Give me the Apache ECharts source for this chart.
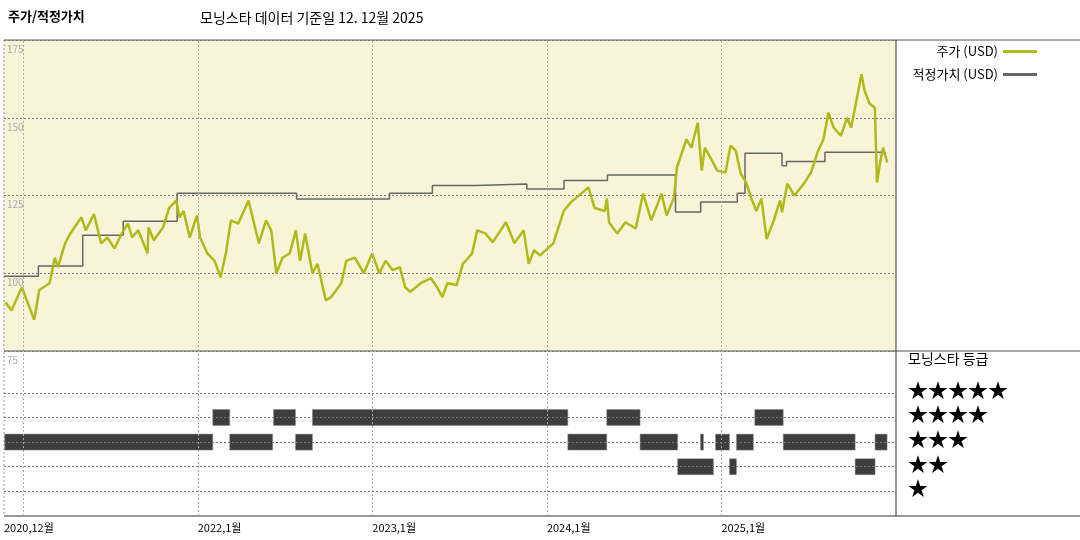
<!DOCTYPE html>
<html>
<head>
<meta charset="utf-8">
<script src="https://cdn.jsdelivr.net/npm/echarts@6/dist/echarts.min.js"></script>
<style>body{margin:0;background:#fff}#main{width:1080px;height:540px}</style>
</head>
<body>
<div id="main"></div>
<script>
// 시점은 연도 소수값 (2025.0 = 2025년 1월 1일)
var priceData = [
  [2020.898,90.7],[2020.933,88],[2020.992,95.5],[2021.063,85],[2021.092,94.6],[2021.151,96.8],
  [2021.181,105],[2021.199,102],[2021.240,109.6],[2021.270,112.8],[2021.334,118],[2021.358,113.8],
  [2021.405,119],[2021.447,109.6],[2021.482,111.5],[2021.523,108],[2021.565,112.8],[2021.600,116],
  [2021.624,111.5],[2021.659,113.8],[2021.712,106.4],[2021.718,114.7],[2021.748,110.6],[2021.801,114.7],
  [2021.836,121],[2021.877,123.4],[2021.895,118],[2021.919,120],[2021.954,111.5],[2021.996,118.6],
  [2022.013,111.5],[2022.055,106.4],[2022.096,104],[2022.131,98.7],[2022.161,106.4],[2022.190,117],
  [2022.232,116],[2022.291,123.4],[2022.332,113.8],[2022.350,109.6],[2022.391,117],[2022.421,113.8],
  [2022.450,100],[2022.486,105],[2022.527,106.4],[2022.562,113.8],[2022.586,104],[2022.615,112.8],
  [2022.657,100],[2022.686,103],[2022.733,91.3],[2022.763,92.3],[2022.822,96.8],[2022.851,104],
  [2022.899,105],[2022.952,100],[2022.999,106.4],[2023.040,100],[2023.076,104],[2023.117,101],
  [2023.158,102],[2023.188,95.5],[2023.217,94],[2023.277,96.8],[2023.336,98.4],[2023.371,95.5],
  [2023.401,92.3],[2023.430,96.8],[2023.483,96.2],[2023.519,103],[2023.572,106.4],[2023.601,113.8],
  [2023.648,112.8],[2023.690,110],[2023.766,116.4],[2023.814,109.6],[2023.867,113.8],[2023.896,103],
  [2023.926,107.4],[2023.961,105.8],[2024.037,109.6],[2024.096,120],[2024.137,122.8],[2024.238,127.6],
  [2024.273,121],[2024.332,120],[2024.344,124],[2024.356,116.4],[2024.403,112.8],[2024.450,116.4],
  [2024.509,114.4],[2024.551,125.6],[2024.598,117],[2024.657,125.6],[2024.686,118.6],[2024.728,124.3],
  [2024.745,134],[2024.799,143],[2024.828,140.4],[2024.864,148.4],[2024.887,133],[2024.905,140.4],
  [2024.946,136.2],[2024.976,133],[2025.023,132.4],[2025.052,141],[2025.082,139.4],[2025.111,132],
  [2025.141,129.2],[2025.170,124.3],[2025.200,120],[2025.229,124],[2025.259,111],[2025.300,117],
  [2025.336,123.4],[2025.347,119.6],[2025.377,128.8],[2025.418,125],[2025.477,129.2],[2025.513,132.4],
  [2025.554,139.4],[2025.584,143],[2025.613,151.6],[2025.643,146.8],[2025.684,144.2],[2025.720,150],
  [2025.743,146.8],[2025.773,155.4],[2025.802,164],[2025.820,158.7],[2025.849,154.5],[2025.879,153.2],
  [2025.891,129.2],[2025.908,135.3],[2025.926,140.4],[2025.950,135.6]
];
// 적정가치 계단: [변경 시점, 값]
var fairData = [
  [2020.89,99.0],[2021.087,102.3],[2021.341,112.2],[2021.573,116.7],[2021.882,125.7],[2022.566,123.9],
  [2023.098,125.7],[2023.344,128.2],[2023.595,128.7],[2023.885,127.1],[2024.098,129.8],[2024.347,131.6],
  [2024.737,119.7],[2024.881,122.9],[2025.091,125.7],[2025.135,138.6],[2025.347,134.6],[2025.373,135.9],
  [2025.593,138.9],[2025.937,138.9]
];
// 모닝스타 등급 구간: [시작, 끝, 별 수]
var ratingData = [
  [2020.894,2022.086,3],[2022.086,2022.183,4],[2022.183,2022.429,3],[2022.434,2022.560,4],
  [2022.560,2022.657,3],[2022.657,2024.120,4],[2024.120,2024.343,3],[2024.343,2024.534,4],
  [2024.534,2024.749,3],[2024.749,2024.954,2],[2024.880,2024.897,3],[2024.966,2025.046,3],
  [2025.046,2025.086,2],[2025.086,2025.183,3],[2025.191,2025.354,4],[2025.354,2025.766,3],
  [2025.766,2025.880,2],[2025.880,2025.949,3]
];
var yearTicks = [2021, 2022, 2023, 2024, 2025];
var starLabels = ['★★★★★', '★★★★', '★★★', '★★', '★'];

var FONT = '"Noto Sans CJK KR", sans-serif';
var dotted = {color: '#777', type: [2, 2], width: 1};
var vdotted = {color: '#aaa', type: [2, 2], width: 1};
var vlines = yearTicks.map(function (y) { return {xAxis: y}; });

var myChart = echarts.init(document.getElementById('main'));
var option = {
  animation: false,
  textStyle: {fontFamily: FONT},
  grid: [
    {left: 4, right: 184, top: 40, height: 311, backgroundColor: '#f8f4d8', show: true, borderWidth: 0},
    {left: 4, right: 184, top: 351, height: 165, show: false}
  ],
  xAxis: [
    {gridIndex: 0, type: 'value', min: 2020.89, max: 2026, show: false},
    {gridIndex: 1, type: 'value', min: 2020.89, max: 2026,
      axisLine: {show: false}, axisTick: {show: false}, splitLine: {show: false},
      axisLabel: {customValues: [2020.89].concat(yearTicks), showMinLabel: true, hideOverlap: false,
        color: '#000', fontSize: 11, margin: 6, align: 'left',
        formatter: function (v) {
          return v < 2021 ? '2020,12월' : v + ',1월';
        }}}
  ],
  yAxis: [
    {gridIndex: 0, type: 'value', min: 75, max: 175, interval: 25,
      axisLine: {show: false}, axisTick: {show: false},
      splitLine: {show: true, lineStyle: dotted},
      axisLabel: {inside: true, verticalAlign: 'top', color: '#aaa', fontSize: 10, margin: 3, padding: [4, 0, 0, 0]}},
    {gridIndex: 1, type: 'value', min: 0, max: 6.7, show: false}
  ],
  legend: {
    orient: 'vertical', right: 38, top: 40, align: 'right', itemWidth: 34, itemHeight: 3, itemGap: 10,
    icon: 'rect', textStyle: {fontSize: 13, color: '#000', fontFamily: FONT},
    data: ['주가 (USD)', '적정가치 (USD)']
  },
  series: [
    {name: '적정가치 (USD)', type: 'line', step: 'end', data: fairData, symbol: 'none',
      itemStyle: {color: '#666'}, lineStyle: {color: '#666', width: 1.5},
      markLine: {silent: true, symbol: 'none', label: {show: false}, lineStyle: vdotted, data: vlines}},
    {name: '주가 (USD)', type: 'line', data: priceData, symbol: 'none',
      itemStyle: {color: '#b0b91a'}, lineStyle: {color: '#b0b91a', width: 2.5}},
    {type: 'custom', xAxisIndex: 1, yAxisIndex: 1, data: ratingData,
      renderItem: function (params, api) {
        var a = api.coord([api.value(0), api.value(2)]);
        var b = api.coord([api.value(1), api.value(2)]);
        return {type: 'rect', shape: {x: a[0], y: a[1] - 8, width: Math.max(b[0] - a[0], 2), height: 16},
          style: {fill: '#3d3d3d', stroke: '#888', lineWidth: 0.5}};
      },
      markLine: {silent: true, symbol: 'none', label: {show: false}, lineStyle: dotted,
        data: vlines.map(function (v) { return {xAxis: v.xAxis, lineStyle: vdotted}; })
          .concat([1, 2, 3, 4, 5].map(function (s) { return {yAxis: s}; }))}}
  ],
  graphic: [
    {type: 'text', left: 8, top: 10, style: {text: '주가/적정가치', font: 'bold 13px ' + FONT, fill: '#000'}},
    {type: 'text', left: 200, top: 11, style: {text: '모닝스타 데이터 기준일 12. 12월 2025', font: '14px ' + FONT, fill: '#000'}},
    {type: 'line', shape: {x1: 4, y1: 40, x2: 1080, y2: 40}, style: {stroke: '#555', lineWidth: 1}},
    {type: 'line', shape: {x1: 4, y1: 351, x2: 1080, y2: 351}, style: {stroke: '#555', lineWidth: 1}},
    {type: 'line', shape: {x1: 4, y1: 516, x2: 1080, y2: 516}, style: {stroke: '#333', lineWidth: 1}},
    {type: 'line', shape: {x1: 896, y1: 40, x2: 896, y2: 516}, style: {stroke: '#333', lineWidth: 1}},
    {type: 'line', shape: {x1: 4, y1: 40, x2: 4, y2: 516}, style: {stroke: '#999', lineWidth: 1, lineDash: [2, 2]}},
    {type: 'text', left: 908, top: 352, style: {text: '모닝스타 등급', font: '14px ' + FONT, fill: '#000'}}
  ].concat(starLabels.map(function (s, i) {
    return {type: 'text', left: 908, top: 380 + i * 24.7, style: {text: s, font: '20px ' + FONT, fill: '#000'}};
  }))
};
myChart.setOption(option);
</script>
</body>
</html>
